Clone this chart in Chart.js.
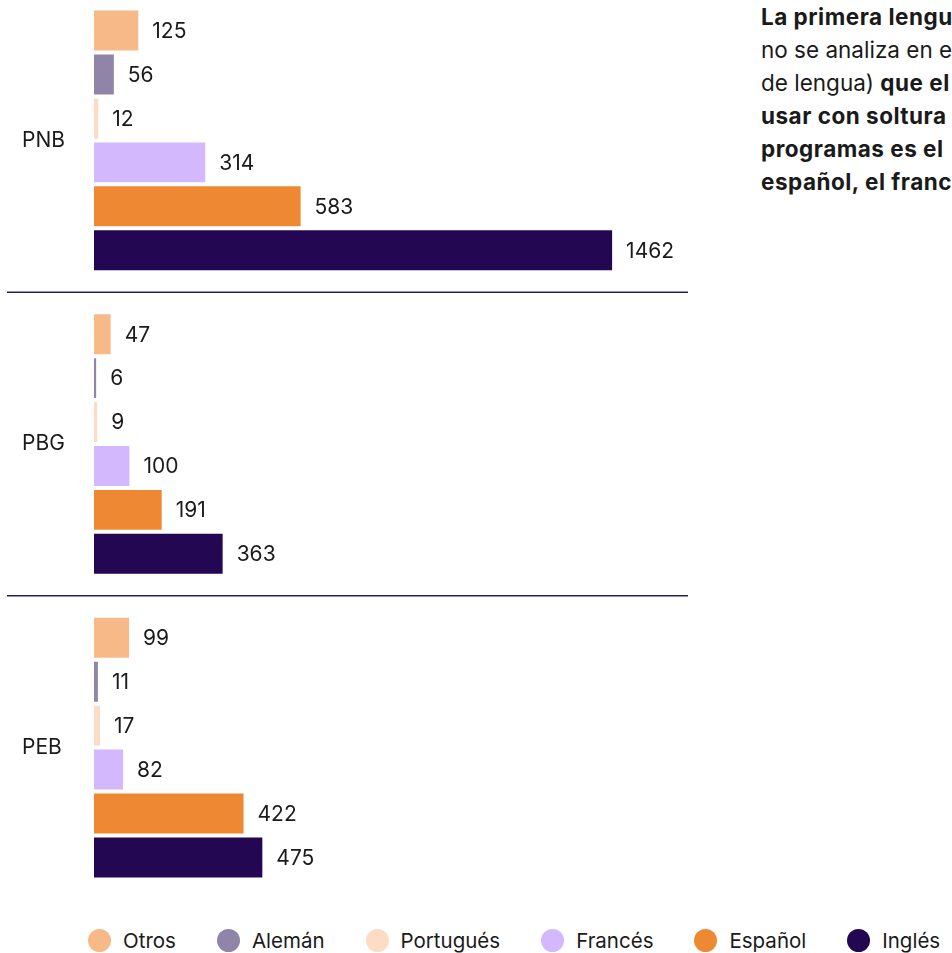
<!DOCTYPE html>
<html lang="es">
<head>
<meta charset="utf-8">
<title>Lenguas</title>
<script src="https://cdn.jsdelivr.net/npm/chart.js@4.4.1/dist/chart.umd.min.js"></script>
<style>
  html, body { margin: 0; padding: 0; background: #fff; overflow: hidden; }
  body { width: 952px; height: 953px; position: relative; font-family: Inter, "Noto Sans", sans-serif; color: #1a1a1a; }
  #chartBox { position: absolute; left: 0; top: -27px; width: 700px; height: 942px; }
  #legend { position: absolute; left: 88px; top: 928px; display: flex; gap: 41px; white-space: nowrap; }
  #legend .item { display: flex; align-items: center; font-size: 20.5px; height: 24px; }
  #legend .dot { width: 23px; height: 23px; border-radius: 50%; margin-right: 12px; }
  #note { position: absolute; left: 761px; top: 0; font-size: 22.5px; line-height: 33px; white-space: nowrap; }
  #note b { font-weight: 700; letter-spacing: 0.5px; }
</style>
</head>
<body>
<div id="chartBox"><canvas id="langChart"></canvas></div>
<div id="legend"></div>
<div id="note">
  <b>La primera lengua</b><br>
  no se analiza en el<br>
  de lengua) <b>que el</b><br>
  <b>usar con soltura</b><br>
  <b>programas es el</b><br>
  <b>español, el francés</b>
</div>
<script>
// =========================
// Data
// =========================

const programs = ["PNB", "PBG", "PEB"];

const otros     = [125, 47, 99];
const aleman    = [56, 6, 11];
const portugues = [12, 9, 17];
const frances   = [314, 100, 82];
const espanol   = [583, 191, 422];
const ingles    = [1462, 363, 475];

const seriesNames  = ["Otros", "Alemán", "Portugués", "Francés", "Español", "Inglés"];
const seriesValues = [otros, aleman, portugues, frances, espanol, ingles];
const seriesColors = ["#f7b987", "#9184a9", "#fcdcc4", "#d4b8fd", "#ef8833", "#230753"];

// =========================
// Plugins
// =========================

// value next to each bar
const valueLabels = {
  id: "valueLabels",
  afterDatasetsDraw(chart) {
    const ctx = chart.ctx;
    ctx.save();
    ctx.font = "21px Inter, 'Noto Sans', sans-serif";
    ctx.fillStyle = "#1a1a1a";
    ctx.textAlign = "left";
    ctx.textBaseline = "middle";
    chart.data.datasets.forEach((ds, i) => {
      chart.getDatasetMeta(i).data.forEach((bar, j) => {
        ctx.fillText(ds.data[j], bar.x + 14, bar.y + 1);
      });
    });
    ctx.restore();
  }
};

// rule between program groups
const groupLines = {
  id: "groupLines",
  afterDraw(chart) {
    const y = chart.scales.y;
    const ctx = chart.ctx;
    ctx.save();
    ctx.strokeStyle = "#2b1a66";
    ctx.lineWidth = 1.5;
    for (let i = 1; i < programs.length; i++) {
      const py = (y.getPixelForValue(i - 1) + y.getPixelForValue(i)) / 2;
      ctx.beginPath();
      ctx.moveTo(7, py);
      ctx.lineTo(chart.chartArea.right - 12, py);
      ctx.stroke();
    }
    ctx.restore();
  }
};

// =========================
// Create Chart
// =========================

const ctx = document.getElementById("langChart").getContext("2d");

const langChart = new Chart(ctx, {
  type: "bar",
  data: {
    labels: programs,
    datasets: seriesNames.map((name, i) => ({
      label: name,
      data: seriesValues[i],
      backgroundColor: seriesColors[i],
      categoryPercentage: 0.868,
      barPercentage: 0.91
    }))
  },
  options: {
    indexAxis: "y",
    responsive: true,
    maintainAspectRatio: false,
    animation: false,
    layout: { padding: { left: 22, top: 0, bottom: 0, right: 0 } },
    plugins: {
      legend: { display: false },
      tooltip: { enabled: false }
    },
    scales: {
      x: { display: false, min: 0, max: 1710 },
      y: {
        grid: { display: false },
        border: { display: false },
        ticks: {
          crossAlign: "far",
          color: "#1a1a1a",
          font: { family: "Inter, 'Noto Sans', sans-serif", size: 21 }
        },
        afterFit(scale) { scale.width = 72; }
      }
    }
  },
  plugins: [valueLabels, groupLines]
});

// =========================
// Legend
// =========================

const legend = document.getElementById("legend");
seriesNames.forEach((name, i) => {
  const item = document.createElement("div");
  item.className = "item";
  const dot = document.createElement("span");
  dot.className = "dot";
  dot.style.background = seriesColors[i];
  const label = document.createElement("span");
  label.textContent = name;
  item.appendChild(dot);
  item.appendChild(label);
  legend.appendChild(item);
});
</script>
</body>
</html>
